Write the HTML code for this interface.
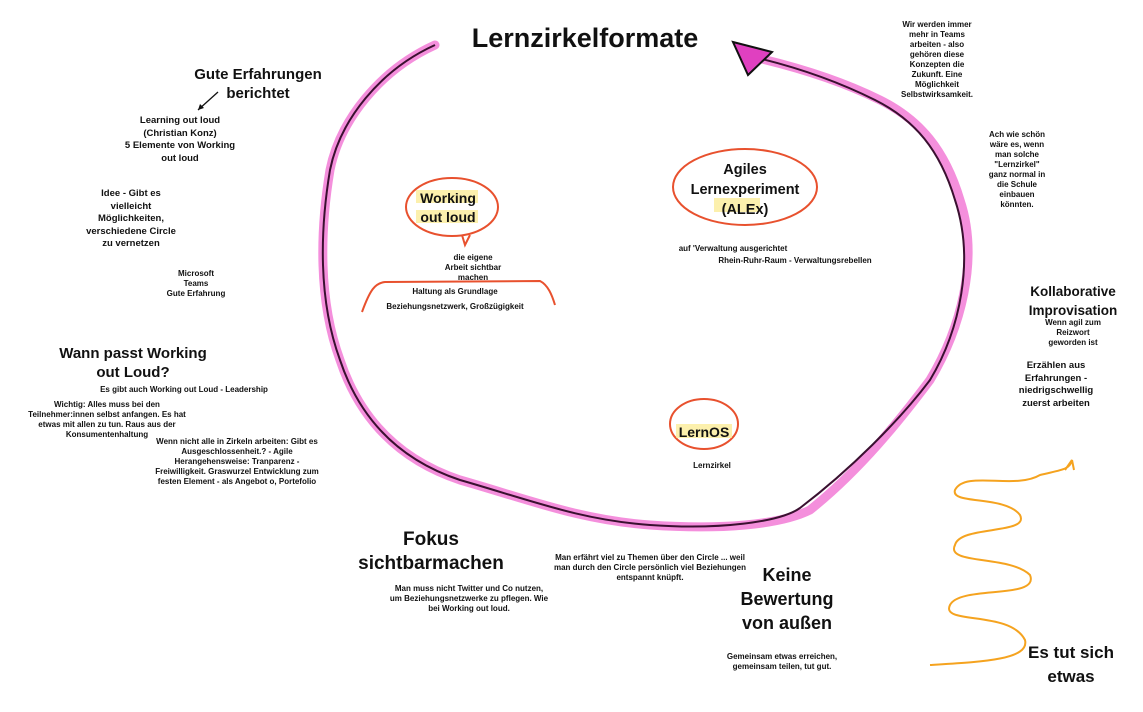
<!DOCTYPE html>
<html><head><meta charset="utf-8"><style>
body{margin:0;width:1143px;height:712px;background:#fff;position:relative;overflow:hidden;font-family:"Liberation Sans",sans-serif;font-weight:bold;color:#111}
.t{position:absolute;text-align:center;transform:translateX(-50%);white-space:nowrap}
.s{font-size:8px;line-height:10px}
.m{font-size:9.5px;line-height:12.5px}
.l{font-size:15px;line-height:19px}
.xl{font-size:19px;line-height:24px}
svg{position:absolute;left:0;top:0}
</style></head><body>
<svg width="1143" height="712">
<path d="M435,45 C380,70 340,120 330,170 C320,230 318,300 340,360 C360,420 400,460 460,480 C530,500 580,520 650,525 C720,530 780,525 810,510 C860,470 900,420 930,380 C960,330 980,260 960,200 C945,150 920,120 880,100 C840,80 790,65 745,55" fill="none" stroke="#f48fdc" stroke-width="9" stroke-linecap="round"/>
<path d="M435,45 C380,70 340,120 330,170 C320,230 318,300 340,360 C360,420 400,460 460,480 C530,500 580,520 650,525 C720,530 780,522 800,508 C850,470 900,420 930,380 C960,330 975,260 955,200 C940,150 915,120 875,100 C835,80 790,65 745,55" fill="none" stroke="#3a1030" stroke-width="2"/>
<path d="M733,42 L772,52 L748,75 Z" fill="#e040c0" stroke="#111" stroke-width="2"/>
<line x1="218" y1="92" x2="198" y2="110" stroke="#111" stroke-width="1.3"/>
<path d="M198,110 l2,-6 l4,4 z" fill="#111"/>
<ellipse cx="452" cy="207" rx="46" ry="29" fill="none" stroke="#e8512e" stroke-width="2"/>
<path d="M462,235 l3,10 l5,-10" fill="none" stroke="#e8512e" stroke-width="2"/>
<ellipse cx="745" cy="187" rx="72" ry="38" fill="none" stroke="#e8512e" stroke-width="2"/>
<ellipse cx="704" cy="424" rx="34" ry="25" fill="none" stroke="#e8512e" stroke-width="2"/>
<path d="M362,312 C370,290 375,283 385,282 L540,281 C548,285 552,295 555,305" fill="none" stroke="#e8512e" stroke-width="2"/>
<rect x="416" y="190" width="62" height="13" fill="#fbe98a" opacity=".7"/>
<rect x="416" y="210" width="62" height="13" fill="#fbe98a" opacity=".7"/>
<rect x="714" y="198" width="46" height="14" fill="#fbe98a" opacity=".7"/>
<rect x="676" y="424" width="56" height="14" fill="#fbe98a" opacity=".7"/>
<path d="M930,665 C980,662 1030,660 1025,640 C1010,610 940,625 950,605 C960,585 1040,600 1030,575 C1010,555 945,565 955,545 C960,525 1030,535 1020,515 C1005,495 950,505 955,490 C965,470 1015,490 1040,475 C1060,470 1070,470 1072,460 L1065,470 M1072,460 L1074,470" fill="none" stroke="#f5a31f" stroke-width="2"/>
</svg>
<div class="t" style="left:585px;top:22px;font-size:27px;line-height:32px">Lernzirkelformate</div>
<div class="t l" style="left:258px;top:65px">Gute Erfahrungen<br>berichtet</div>
<div class="t m" style="left:180px;top:115px">Learning out loud<br>(Christian Konz)<br>5 Elemente von Working<br>out loud</div>
<div class="t m" style="left:131px;top:188px">Idee - Gibt es<br>vielleicht<br>Möglichkeiten,<br>verschiedene Circle<br>zu vernetzen</div>
<div class="t s" style="left:196px;top:269px">Microsoft<br>Teams<br>Gute Erfahrung</div>
<div class="t l" style="left:133px;top:344px">Wann passt Working<br>out Loud?</div>
<div class="t s" style="left:184px;top:385px">Es gibt auch Working out Loud - Leadership</div>
<div class="t s" style="left:107px;top:400px">Wichtig: Alles muss bei den<br>Teilnehmer:innen selbst anfangen. Es hat<br>etwas mit allen zu tun. Raus aus der<br>Konsumentenhaltung</div>
<div class="t s" style="left:237px;top:437px">Wenn nicht alle in Zirkeln arbeiten: Gibt es<br>Ausgeschlossenheit.? - Agile<br>Herangehensweise: Tranparenz -<br>Freiwilligkeit. Graswurzel Entwicklung zum<br>festen Element - als Angebot o, Portefolio</div>
<div class="t" style="left:448px;top:189px;font-size:14px;line-height:19px">Working<br>out loud</div>
<div class="t s" style="left:473px;top:253px">die eigene<br>Arbeit sichtbar<br>machen</div>
<div class="t s" style="left:455px;top:287px">Haltung als Grundlage</div>
<div class="t s" style="left:455px;top:302px">Beziehungsnetzwerk, Großzügigkeit</div>
<div class="t" style="left:745px;top:160px;font-size:14.5px;line-height:20px">Agiles<br>Lernexperiment<br>(ALEx)</div>
<div class="t s" style="left:733px;top:244px">auf 'Verwaltung ausgerichtet</div>
<div class="t s" style="left:795px;top:256px">Rhein-Ruhr-Raum - Verwaltungsrebellen</div>
<div class="t" style="left:704px;top:423px;font-size:14px;line-height:18px">LernOS</div>
<div class="t s" style="left:712px;top:461px">Lernzirkel</div>
<div class="t s" style="left:937px;top:20px">Wir werden immer<br>mehr in Teams<br>arbeiten - also<br>gehören diese<br>Konzepten die<br>Zukunft. Eine<br>Möglichkeit<br>Selbstwirksamkeit.</div>
<div class="t s" style="left:1017px;top:130px">Ach wie schön<br>wäre es, wenn<br>man solche<br>"Lernzirkel"<br>ganz normal in<br>die Schule<br>einbauen<br>könnten.</div>
<div class="t" style="left:1073px;top:282px;font-size:13.5px;line-height:19px">Kollaborative<br>Improvisation</div>
<div class="t s" style="left:1073px;top:318px">Wenn agil zum<br>Reizwort<br>geworden ist</div>
<div class="t m" style="left:1056px;top:360px">Erzählen aus<br>Erfahrungen -<br>niedrigschwellig<br>zuerst arbeiten</div>
<div class="t xl" style="left:431px;top:528px">Fokus<br>sichtbarmachen</div>
<div class="t s" style="left:469px;top:584px">Man muss nicht Twitter und Co nutzen,<br>um Beziehungsnetzwerke zu pflegen. Wie<br>bei Working out loud.</div>
<div class="t s" style="left:650px;top:553px">Man erfährt viel zu Themen über den Circle ... weil<br>man durch den Circle persönlich viel Beziehungen<br>entspannt knüpft.</div>
<div class="t" style="left:787px;top:563px;font-size:18px;line-height:24px">Keine<br>Bewertung<br>von außen</div>
<div class="t s" style="left:782px;top:652px">Gemeinsam etwas erreichen,<br>gemeinsam teilen, tut gut.</div>
<div class="t" style="left:1071px;top:641px;font-size:17px;line-height:24px">Es tut sich<br>etwas</div>
</body></html>
